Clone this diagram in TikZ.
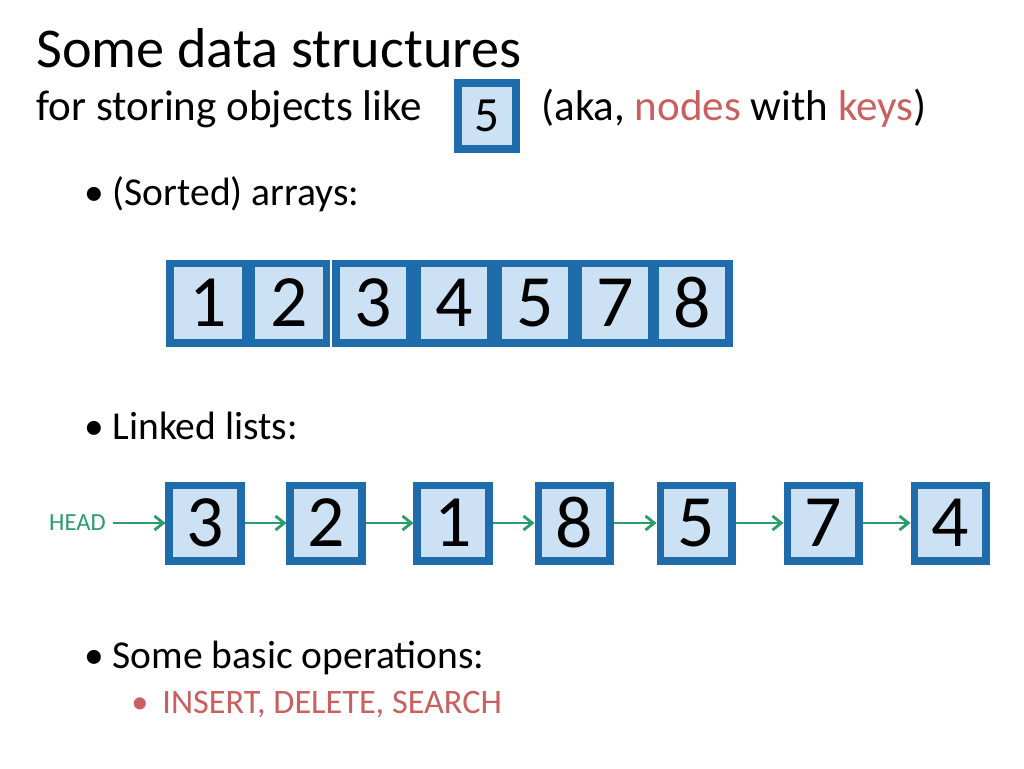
\documentclass[tikz,border=0pt]{standalone}
\usepackage{fontspec}
\setmainfont{Carlito}
\usetikzlibrary{arrows.meta}
\definecolor{bfill}{HTML}{CCE2F4}
\definecolor{bdraw}{HTML}{1F6CAD}
\definecolor{grn}{HTML}{2A9D6A}
\definecolor{pnk}{HTML}{C9605F}
\begin{document}
\begin{tikzpicture}[x=0.02cm,y=-0.02cm,
  box/.style={draw=bdraw,fill=bfill,line width=4pt,inner sep=0pt,font=\fontsize{42}{42}\selectfont},
  ll/.style={-{Straight Barb[length=5pt,width=8pt]},draw=grn,line width=1.6pt},
  txt/.style={anchor=base west,inner sep=0pt}]
\useasboundingbox (0,0) rectangle (1024,768);
\node[txt,font=\fontsize{32}{32}\selectfont] (title) at (36,67) {Some data structures};
\node[txt,font=\fontsize{24.5}{24.5}\selectfont] (sub) at (36,120) {for storing objects like};
\node[box,minimum width=1.16cm,minimum height=1.32cm,font=\fontsize{28}{28}\selectfont] (five) at (487,116) {5};
\node[txt,font=\fontsize{24.5}{24.5}\selectfont] (aka) at (541,120) {(aka, \textcolor{pnk}{nodes} with \textcolor{pnk}{keys})};
\node[txt,font=\fontsize{22.5}{22.5}\selectfont] (b1) at (84,205) {•\hspace{5pt}(Sorted) arrays:};
\node[txt,font=\fontsize{22.5}{22.5}\selectfont] (b2) at (84,439) {•\hspace{5pt}Linked lists:};
\node[txt,font=\fontsize{22.5}{22.5}\selectfont] (b3) at (84,668) {•\hspace{5pt}Some basic operations:};
\node[txt,font=\fontsize{19.5}{19.5}\selectfont] (b4) at (131,713) {\textcolor{pnk}{•\hspace{8pt}INSERT, DELETE, SEARCH}};
\foreach \x/\w/\t [count=\i] in {208/76/1,289/75/2,373/74/3,454/74/4,535/73/5,615/73/7,692/74/8}
  \node[box,minimum width=\w*0.02cm,minimum height=1.6cm] (a\i) at (\x,303) {\t};
\foreach \x/\t [count=\i] in {205/3,326/2,453/1,574/8,696/5,823/7,950/4}
  \node[box,minimum width=1.44cm,minimum height=1.52cm] (l\i) at (\x,523) {\t};
\node[anchor=east,inner sep=0pt,text=grn,font=\fontsize{14}{14}\selectfont] (head) at (106,523) {HEAD};
\draw[ll] (head.east)++(7,0) -- (l1.west);
\foreach \i [evaluate=\i as \j using int(\i+1)] in {1,...,6}
  \draw[ll] (l\i.east) -- (l\j.west);
\end{tikzpicture}
\end{document}
